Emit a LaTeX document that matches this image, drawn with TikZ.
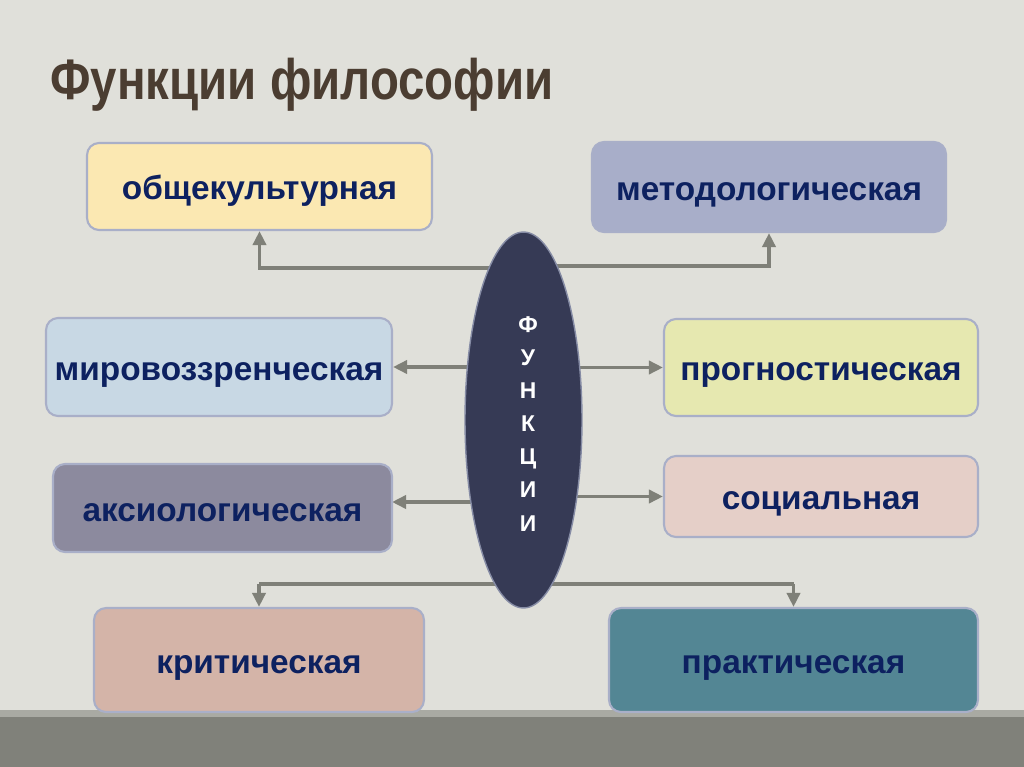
\documentclass[tikz,border=0pt]{standalone}
\usepackage{fontspec}
\setmainfont{Liberation Sans}
\newfontfamily\titlefont[FakeStretch=0.83]{Liberation Sans}
\usetikzlibrary{arrows.meta,backgrounds,shapes.geometric}
\definecolor{bg}{HTML}{E0E0DA}
\definecolor{band}{HTML}{80817A}
\definecolor{bandlight}{HTML}{A9AAA3}
\definecolor{titlec}{HTML}{4B3D31}
\definecolor{txt}{HTML}{0D2160}
\definecolor{edge}{HTML}{A9AFC8}
\definecolor{conn}{HTML}{7F8078}
\definecolor{ellc}{HTML}{363A55}
\definecolor{cObs}{HTML}{FBE8B2}
\definecolor{cMet}{HTML}{A8AEC9}
\definecolor{cMir}{HTML}{C8D8E4}
\definecolor{cAks}{HTML}{8C8A9E}
\definecolor{cPro}{HTML}{E6E8B0}
\definecolor{cSoc}{HTML}{E5CFC8}
\definecolor{cKri}{HTML}{D4B4A8}
\definecolor{cPra}{HTML}{538694}
\tikzset{
  fbox/.style={draw=edge, line width=1.2pt, rounded corners=0.24cm, inner sep=0pt,
    text height=0.53cm, text depth=0pt,
    font=\fontsize{19}{22}\selectfont\bfseries, text=txt},
  link/.style={draw=conn, line width=2.2pt},
  arr/.style={link, -{Triangle[length=2.8mm,width=2.6mm]}}
}
\begin{document}
\begin{tikzpicture}[x=0.02cm,y=-0.02cm]
\begin{scope}[on background layer]
\fill[bg] (0,0) rectangle (1024,767);
\end{scope}
\useasboundingbox (0,0) rectangle (1024,767);
\fill[bandlight] (0,710) rectangle (1024,717);
\fill[band] (0,717) rectangle (1024,767);
\node[anchor=base west, inner sep=0pt, text=titlec, font=\titlefont\bfseries\fontsize{32.5}{36}\selectfont] (title) at (50,100) {Функции философии};

\node[fbox, fill=cObs, minimum width=6.9cm, minimum height=1.74cm] (obs) at (259.5,186.5) {общекультурная};
\node[fbox, fill=cMet, minimum width=7.08cm, minimum height=1.8cm] (met) at (769,187) {методологическая};
\node[fbox, fill=cMir, minimum width=6.92cm, minimum height=1.96cm] (mir) at (219,367) {мировоззренческая};
\node[fbox, fill=cAks, minimum width=6.78cm, minimum height=1.76cm] (aks) at (222.5,508) {аксиологическая};
\node[fbox, fill=cPro, minimum width=6.28cm, minimum height=1.94cm] (pro) at (821,367.5) {прогностическая};
\node[fbox, fill=cSoc, minimum width=6.28cm, minimum height=1.62cm] (soc) at (821,496.5) {социальная};
\node[fbox, fill=cKri, minimum width=6.6cm, minimum height=2.08cm] (kri) at (259,660) {критическая};
\node[fbox, fill=cPra, minimum width=7.38cm, minimum height=2.08cm] (pra) at (793.5,660) {практическая};

\node[ellipse, draw=edge!70!ellc, line width=0.8pt, fill=ellc, minimum width=2.34cm, minimum height=7.52cm, inner sep=0pt] (el) at (523.5,420) {};
\node[text=white, font=\fontsize{13}{18.8}\selectfont\bfseries, align=center, inner sep=0pt] (word) at (528,424) {Ф\\У\\Н\\К\\Ц\\И\\И};

\begin{scope}[on background layer]
\coordinate (tl) at (523.5,268);
\coordinate (tr) at (523.5,266);
\coordinate (ak) at (523.5,502);
\coordinate (ake) at (392,502);
\coordinate (bl) at (259,584);
\coordinate (br) at (793.5,584);
\draw[arr] (tl) -| (obs.south);
\draw[arr] (tr) -| (met.south);
\draw[arr] (el.center |- mir.east) -- (mir.east);
\draw[arr] (el.center |- pro.west) -- (pro.west);
\draw[arr] (ak) -- (ake);
\draw[arr] (el.center |- soc.west) -- (soc.west);
\draw[link] (bl) -- (br);
\draw[arr] (bl) -- (kri.north);
\draw[arr] (br) -- (pra.north);
\end{scope}
\end{tikzpicture}
\end{document}
